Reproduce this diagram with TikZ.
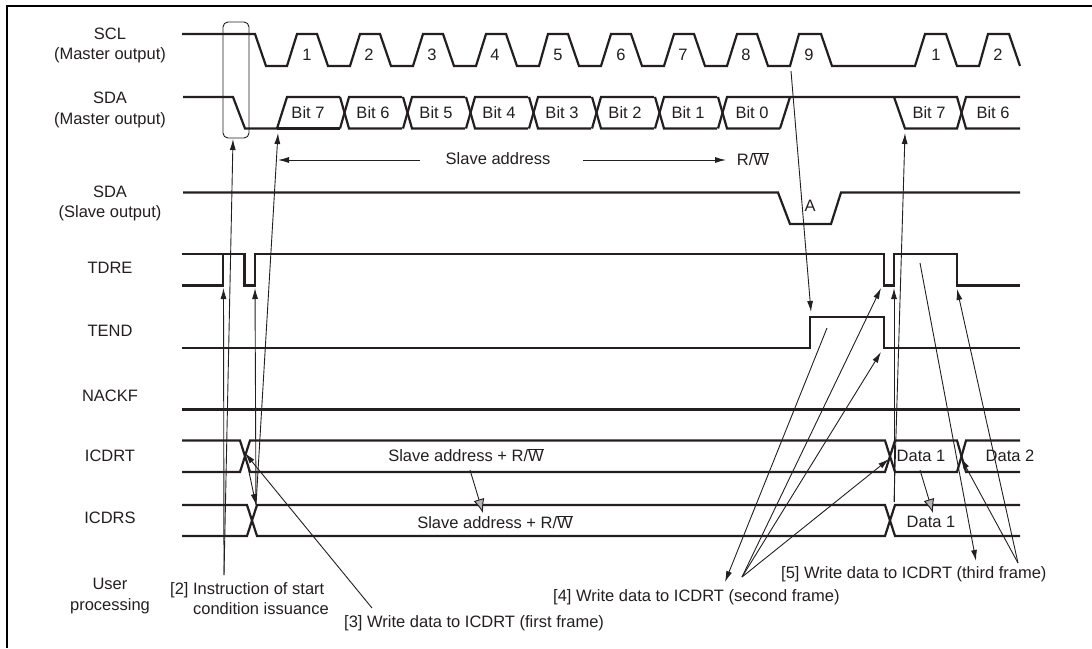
\documentclass[tikz,border=0pt]{standalone}
\usepackage{fontspec}
\setmainfont{Liberation Sans}
\usetikzlibrary{arrows.meta}
\definecolor{inkblack}{RGB}{35,31,32}
\tikzset{
  wave/.style={line width=2.2pt, color=inkblack, line join=miter},
  thinline/.style={line width=0.9pt, color=inkblack},
  annot/.style={thinline, -{Latex[length=11pt,width=6pt]}},
  greyarrow/.style={thinline, -{Latex[length=14pt,width=11pt,fill=black!30]}},
  lbl/.style={font=\fontsize{16.5}{20}\selectfont, text=inkblack, inner sep=0pt},
}
\begin{document}
\begin{tikzpicture}[x=1pt,y=-1pt]
\useasboundingbox (0,0) rectangle (1092,648);

\draw[line width=2pt] (1092,5.5) -- (6.5,5.5) -- (6.5,648);

\node[lbl] (sclname) at (110,34) {SCL};
\node[lbl] (sclout) at (110,55) {(Master output)};
\node[lbl] (sdaname) at (110,98) {SDA};
\node[lbl] (sdaout) at (110,120) {(Master output)};
\node[lbl] (slvname) at (110,192) {SDA};
\node[lbl] (slvout) at (110,213) {(Slave output)};
\node[lbl] (tdrename) at (110,268) {TDRE};
\node[lbl] (tendname) at (110,331) {TEND};
\node[lbl] (nackname) at (110,396) {NACKF};
\node[lbl] (icdrtname) at (110,456) {ICDRT};
\node[lbl] (icdrsname) at (110,518) {ICDRS};
\node[lbl] (username) at (110,584) {User};
\node[lbl] (procname) at (110,606) {processing};

% SCL
\draw[wave] (182,34) -- (255,34) -- (266,66) -- (287,66)
  \foreach \x in {287,350,413,476,538,601,664,727} {
    -- (\x+10,34) -- (\x+30,34) -- (\x+41,66) -- (\x+63,66)
  }
  -- (799,34) -- (821,34) -- (832,66) -- (915,66) -- (925,34) -- (946,34)
  -- (957,66) -- (979,66) -- (988,34) -- (1009,34) -- (1020,66);
\foreach \x/\n in {307/1,369/2,432/3,495/4,558/5,621/6,683/7,746/8,809/9,936/1,998/2}
  \node[lbl] (clk\x) at (\x,55) {\n};

% SDA master
\draw[wave] (183,97) -- (233,97) -- (245,128.5) -- (277,128.5) -- (287,97) -- (340,97);
\draw[wave] (277,128.5) -- (340,128.5);
\foreach \x in {340,403,466,529,592,655,718} {
  \draw[wave] (\x,97) -- (\x+9,128.5) -- (\x+62,128.5);
  \draw[wave] (\x,128.5) -- (\x+9,97) -- (\x+62,97);
}
\draw[wave] (780,128.5) -- (790,97);
\draw[wave] (780,97) -- (957,97) -- (966,128.5) -- (1020,128.5);
\draw[wave] (894,97) -- (905,128.5) -- (957,128.5) -- (966,97) -- (1020,97);
\foreach \x/\n in {308/7,373/6,436/5,499/4,562/3,625/2,688/1,752/0,929/7,993/6}
  \node[lbl] (bit\x) at (\x,113) {Bit \n};

\node[lbl] (addr) at (498,159) {Slave address};
\node[lbl] (rw) at (753,159) {R/$\overline{\mbox{W}}$};
\coordinate (addrleft) at (420,160);
\coordinate (addrlefttip) at (278,160);
\coordinate (addrright) at (583,160);
\coordinate (addrrighttip) at (726,160);
\draw[annot] (addrleft) -- (addrlefttip);
\draw[annot] (addrright) -- (addrrighttip);

% SDA slave
\draw[wave] (183,192.5) -- (778,192.5) -- (790,224) -- (831,224) -- (841,192.5) -- (1020,192.5);
\node[lbl] (ack) at (810,206) {A};

% flags
\draw[wave] (182,254) -- (244.5,254) -- (244.5,285.5) -- (255,285.5) -- (255,254) -- (884,254)
  -- (884,285.5) -- (894,285.5) -- (894,254) -- (957,254) -- (957,285.5) -- (1020,285.5);
\draw[wave] (182,285.5) -- (223,285.5) -- (223,254);
\draw[wave] (182,348) -- (810,348) -- (810,317) -- (884,317) -- (884,348) -- (1020,348);
\draw[wave] (182,409.5) -- (1020,409.5);

% ICDRT
\draw[wave] (182,440.5) -- (240,440.5) -- (250,472) -- (885,472) -- (895,440.5) -- (957,440.5) -- (966,472) -- (1020,472);
\draw[wave] (182,472) -- (240,472) -- (250,440.5) -- (885,440.5) -- (895,472) -- (957,472) -- (966,440.5) -- (1020,440.5);
\node[lbl] (adrt) at (466,455) {Slave address + R/$\overline{\mbox{W}}$};
\node[lbl] (dat1) at (921,456) {Data 1};
\node[lbl] (dat2) at (1010,456) {Data 2};

% ICDRS
\draw[wave] (182,505) -- (247,505) -- (257,536) -- (885,536) -- (895,505) -- (1020,505);
\draw[wave] (182,536) -- (247,536) -- (257,505) -- (885,505) -- (895,536) -- (1020,536);
\node[lbl] (adrs) at (495,522) {Slave address + R/$\overline{\mbox{W}}$};
\node[lbl] (dats) at (931,522) {Data 1};

\coordinate (adrtbot) at (470,470);
\coordinate (adrsgrey) at (483,513);
\coordinate (dattbot) at (920,470);
\coordinate (datsgrey) at (933,513);
\draw[greyarrow] (adrtbot) -- (adrsgrey);
\draw[greyarrow] (dattbot) -- (datsgrey);

% annotations
\node[lbl, align=left, anchor=west] (ins) at (170,600) {[2] Instruction of start\\\phantom{[2] }condition issuance};
\node[lbl, anchor=west] (first) at (344,623) {[3] Write data to ICDRT (first frame)};
\node[lbl, anchor=west] (second) at (553,597) {[4] Write data to ICDRT (second frame)};
\node[lbl, anchor=west] (third) at (781,574) {[5] Write data to ICDRT (third frame)};

\node[draw, thinline, rounded corners=5pt, minimum width=26pt, minimum height=116pt, inner sep=0pt] (startbox) at (236,80) {};

\coordinate (insstart) at (224,575);
\coordinate (boxtip) at (233,139);
\coordinate (tdretip) at (223.5,288);
\draw[annot] (insstart) -- (boxtip);
\draw[annot] (insstart) -- (tdretip);

\coordinate (firststart) at (372,608);
\coordinate (icdrttip) at (245,453);
\coordinate (icdrstip) at (256,505);
\coordinate (tdrelow) at (255,288);
\coordinate (sdatip) at (278,133);
\draw[annot] (firststart) -- (icdrttip);
\draw[annot] (icdrttip) -- (icdrstip);
\draw[annot] (icdrstip) -- (tdrelow);
\draw[annot] (icdrstip) -- (sdatip);

\coordinate (secondjoin) at (742,577);
\coordinate (secondtip) at (725,582);
\coordinate (tendhigh) at (827,328);
\coordinate (tdrefall) at (881,288);
\coordinate (tendfall) at (881,352);
\coordinate (icdrtcross) at (889,459);
\draw[annot] (tendhigh) -- (secondtip);
\draw[annot] (secondjoin) -- (tdrefall);
\draw[annot] (secondjoin) -- (tendfall);
\draw[annot] (secondjoin) -- (icdrtcross);

\coordinate (secondstart) at (894,502);
\coordinate (tdrerise) at (894,288);
\coordinate (sdafall) at (905,133);
\draw[annot] (secondstart) -- (tdrerise);
\draw[annot] (secondstart) -- (sdafall);

\coordinate (thirdjoin) at (1018,563);
\coordinate (thirdtip) at (976,561);
\coordinate (tdrehigh) at (920,263);
\coordinate (tdrethird) at (957,289);
\coordinate (icdrtthird) at (961,458);
\draw[annot] (tdrehigh) -- (thirdtip);
\draw[annot] (thirdjoin) -- (tdrethird);
\draw[annot] (thirdjoin) -- (icdrtthird);

\coordinate (sclnine) at (791,71);
\coordinate (tendrise) at (811,312);
\draw[annot] (sclnine) -- (tendrise);
\end{tikzpicture}
\end{document}
